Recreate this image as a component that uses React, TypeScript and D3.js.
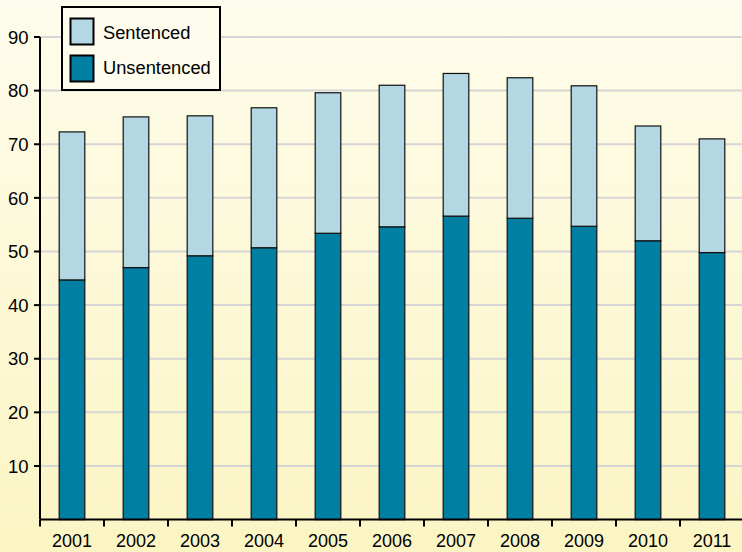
import * as d3 from "d3";

const years = ["2001", "2002", "2003", "2004", "2005", "2006", "2007", "2008", "2009", "2010", "2011"];
const unsentenced = [44.7, 47.0, 49.2, 50.7, 53.4, 54.6, 56.6, 56.2, 54.7, 52.0, 49.8];
const totals = [72.3, 75.1, 75.3, 76.8, 79.6, 81.0, 83.2, 82.4, 80.9, 73.4, 71.0];
const sentenced = totals.map((t, i) => +(t - unsentenced[i]).toFixed(1));
const yTicks = [10, 20, 30, 40, 50, 60, 70, 80, 90];

const W = 742;
const H = 552;
const DARK = "#007fa2";
const LIGHT = "#b3d8e4";
const FONT = "'Liberation Sans', Arial, Helvetica, sans-serif";

export default function App() {
  const left = 40;
  const x = d3.scaleBand<string>().domain(years).range([left, left + 64 * 11]).paddingInner(0.6).paddingOuter(0.3);
  const xTicks = d3.scaleBand<string>().domain(years).range([left, left + 64 * 11]);
  const y = d3.scaleLinear().domain([0, 90]).range([519.6, 37]);

  const rows = years.map((yr, i) => ({ yr, uns: unsentenced[i], sen: sentenced[i] }));
  const stack = d3.stack<any>().keys(["uns", "sen"])(rows);
  const colors = [DARK, LIGHT];

  return (
    <svg width={W} height={H} style={{ position: "absolute", left: 0, top: 0 }} fontFamily={FONT}>
      <defs>
        <linearGradient id="bg" x1="0" y1="0" x2="0" y2="1">
          <stop offset="0%" stopColor="#fefcec" />
          <stop offset="100%" stopColor="#fbf5c3" />
        </linearGradient>
      </defs>
      <rect width={W} height={H} fill="url(#bg)" />

      {yTicks.map((t) => (
        <g key={t}>
          <line x1={left} x2={W} y1={y(t)} y2={y(t)} stroke="#d6d6d6" strokeWidth={2} />
          <line x1={left - 6} x2={left} y1={y(t)} y2={y(t)} stroke="#000" strokeWidth={2} />
          <text x={28.5} y={y(t)} dy="0.36em" textAnchor="end" fontSize={18.5} fill="#000">
            {t}
          </text>
        </g>
      ))}

      {stack.map((layer, li) =>
        layer.map((d, i) => (
          <rect
            key={`${li}-${i}`}
            x={x(years[i])}
            width={x.bandwidth()}
            y={y(d[1])}
            height={y(d[0]) - y(d[1])}
            fill={colors[li]}
            stroke="#111"
            strokeWidth={1.2}
          />
        ))
      )}

      <line x1={left} x2={left} y1={y(90)} y2={y(0)} stroke="#000" strokeWidth={2} />
      <line x1={left} x2={W} y1={y(0)} y2={y(0)} stroke="#000" strokeWidth={2} />
      {years.map((yr) => (
        <g key={yr}>
          <line x1={xTicks(yr)} x2={xTicks(yr)} y1={y(0)} y2={y(0) + 7} stroke="#000" strokeWidth={2} />
          <text x={(xTicks(yr) as number) + xTicks.bandwidth() / 2} y={547} textAnchor="middle" fontSize={18} fill="#000">
            {yr}
          </text>
        </g>
      ))}

      <g>
        <rect x={62} y={7} width={158} height={83} fill="#fefcec" stroke="#000" strokeWidth={2} />
        <rect x={70.5} y={18.5} width={23} height={26} fill={LIGHT} stroke="#000" strokeWidth={2} />
        <rect x={70.5} y={55.5} width={23} height={26} fill={DARK} stroke="#000" strokeWidth={2} />
        <text x={103} y={39} fontSize={18.3} fill="#000">Sentenced</text>
        <text x={103} y={74} fontSize={18.3} fill="#000">Unsentenced</text>
      </g>
    </svg>
  );
}
